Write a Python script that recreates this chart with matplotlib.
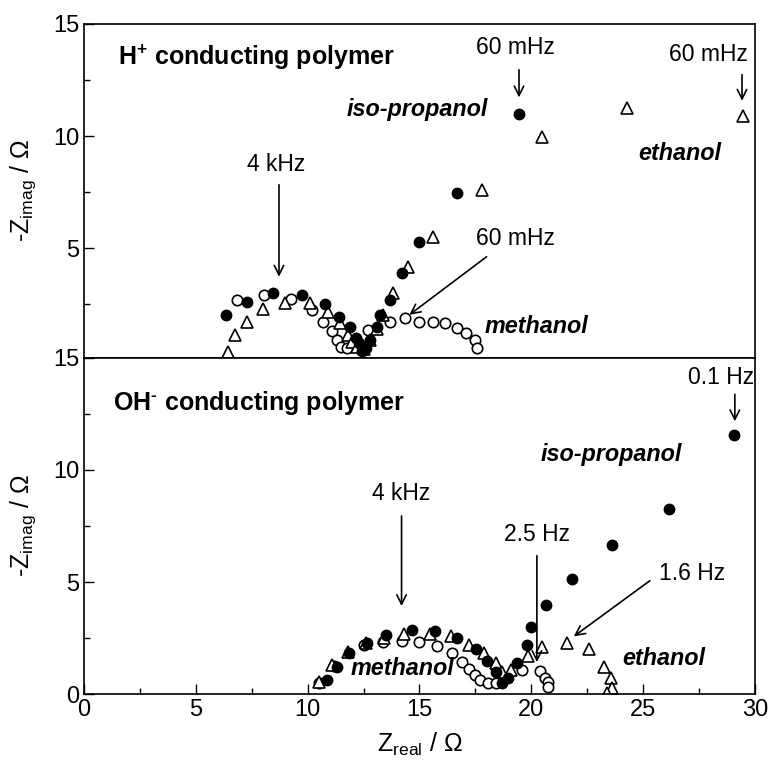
import matplotlib
matplotlib.use("Agg")
import matplotlib.pyplot as plt

plt.rcParams['font.family'] = ['Liberation Sans', 'DejaVu Sans']
plt.rcParams['mathtext.fontset'] = 'custom'
plt.rcParams['mathtext.rm'] = 'Liberation Sans'
plt.rcParams['mathtext.bf'] = 'Liberation Sans:bold'

# ---- H+ conducting polymer (top) ----
h_iso_x = [6.35, 7.28, 8.45, 9.74, 10.77, 11.4, 11.9, 12.15, 12.3, 12.45, 12.6, 12.8, 13.1, 13.23, 13.68, 14.2, 15.0, 16.67, 19.45]
h_iso_y = [2.0, 2.59, 2.99, 2.9, 2.5, 1.92, 1.47, 1.0, 0.76, 0.4, 0.55, 0.9, 1.47, 2.0, 2.68, 3.87, 5.27, 7.46, 11.0]

h_eth_x = [6.43, 6.75, 7.28, 8.0, 9.0, 10.1, 10.9, 11.44, 11.8, 12.0, 12.2, 12.5, 12.8, 13.1, 13.37, 13.8, 14.5, 15.6, 17.8, 20.5, 24.3, 29.45]
h_eth_y = [0.36, 1.12, 1.7, 2.28, 2.54, 2.55, 2.14, 1.65, 1.12, 0.8, 0.58, 0.5, 0.9, 1.4, 2.0, 2.98, 4.15, 5.5, 7.6, 9.96, 11.25, 10.9]

h_meth_x = [6.83, 8.06, 9.24, 10.2, 10.7, 11.1, 11.3, 11.5, 11.75, 12.1, 12.7, 13.68, 14.35, 15.0, 15.6, 16.14, 16.7, 17.1, 17.5, 17.57]
h_meth_y = [2.68, 2.9, 2.72, 2.23, 1.7, 1.3, 0.9, 0.6, 0.53, 0.76, 1.34, 1.7, 1.87, 1.7, 1.7, 1.65, 1.43, 1.2, 0.9, 0.54]

# ---- OH- conducting polymer (bottom) ----
oh_iso_x = [10.86, 11.3, 11.85, 12.65, 13.5, 14.65, 15.7, 16.7, 17.55, 18.0, 18.4, 18.7, 18.95, 19.35, 19.8, 20.0, 20.65, 21.8, 23.6, 26.15, 29.06]
oh_iso_y = [0.63, 1.2, 1.83, 2.28, 2.63, 2.86, 2.8, 2.5, 2.0, 1.47, 0.98, 0.5, 0.7, 1.38, 2.2, 3.0, 3.97, 5.13, 6.65, 8.26, 11.56]

oh_eth_x = [10.5, 11.1, 11.8, 12.6, 13.4, 14.3, 15.47, 16.4, 17.2, 17.9, 18.4, 18.7, 19.1, 19.85, 20.5, 21.6, 22.6, 23.25, 23.55, 23.6, 23.4]
oh_eth_y = [0.54, 1.3, 1.87, 2.3, 2.5, 2.7, 2.68, 2.6, 2.2, 1.83, 1.38, 0.98, 1.07, 1.7, 2.1, 2.28, 2.0, 1.2, 0.7, 0.27, 0.05]

oh_meth_x = [10.5, 11.2, 12.5, 13.37, 14.2, 15.0, 15.8, 16.45, 16.9, 17.2, 17.5, 17.7, 18.06, 18.4, 19.6, 20.4, 20.6, 20.75, 20.75]
oh_meth_y = [0.5, 1.25, 2.2, 2.33, 2.37, 2.33, 2.14, 1.83, 1.43, 1.12, 0.85, 0.63, 0.5, 0.5, 1.07, 1.03, 0.7, 0.54, 0.3]

fig = plt.figure(figsize=(7.7, 7.61), dpi=100)
ax1 = fig.add_axes([0.109, 0.5296, 0.8715, 0.4389])
ax2 = fig.add_axes([0.109, 0.088, 0.8715, 0.4416])

ms = 7.5
for ax, (ix, iy), (ex, ey), (mx, my) in [
        (ax1, (h_iso_x, h_iso_y), (h_eth_x, h_eth_y), (h_meth_x, h_meth_y)),
        (ax2, (oh_iso_x, oh_iso_y), (oh_eth_x, oh_eth_y), (oh_meth_x, oh_meth_y))]:
    ax.plot(mx, my, 'o', ms=ms, mfc='white', mec='black', mew=1.2, ls='none')
    ax.plot(ex, ey, '^', ms=ms + 0.5, mfc='white', mec='black', mew=1.2, ls='none')
    ax.plot(ix, iy, 'o', ms=ms, mfc='black', mec='black', ls='none')
    ax.set_xlim(0, 30)
    ax.set_xticks([0, 5, 10, 15, 20, 25, 30])
    ax.set_xticks([2.5, 7.5, 12.5, 17.5, 22.5, 27.5], minor=True)
    ax.tick_params(which='major', direction='in', length=7, width=1, labelsize=17)
    ax.tick_params(which='minor', direction='in', length=4, width=1)
    ax.tick_params(top=False, right=False)
    for s in ax.spines.values():
        s.set_linewidth(1.2)
    ax.set_ylabel(r'-Z$_\mathregular{imag}$ / $\Omega$', fontsize=18)
    ax.yaxis.set_label_coords(-0.068, 0.5)

ax1.set_ylim(0.1, 15)
ax1.set_yticks([5, 10, 15])
ax1.set_yticks([2.5, 7.5, 12.5], minor=True)
ax1.tick_params(axis='x', which='both', bottom=False, labelbottom=False)

ax2.set_ylim(0, 15)
ax2.set_yticks([0, 5, 10, 15])
ax2.set_yticks([2.5, 7.5, 12.5], minor=True)
ax2.set_xlabel(r'Z$_\mathregular{real}$ / $\Omega$', fontsize=18, labelpad=7)

arrow = dict(arrowstyle='->', color='black', lw=1.2, mutation_scale=17)
fs = 16.5
nm = dict(fontsize=16.8, fontweight='bold', style='italic', va='center')

# top panel labels
ax1.text(1.52, 13.5, r'H$^\mathbf{+}$ conducting polymer', fontsize=18, fontweight='bold', va='center')
ax1.text(18.06, 11.2, 'iso-propanol', ha='right', **nm)
ax1.text(24.77, 9.2, 'ethanol', **nm)
ax1.text(17.9, 1.5, 'methanol', **nm)
ax1.text(8.6, 8.75, '4 kHz', fontsize=fs, ha='center', va='center')
ax1.annotate('', xy=(8.72, 3.6), xytext=(8.72, 7.95), arrowprops=arrow)
ax1.text(19.3, 13.93, '60 mHz', fontsize=fs, ha='center', va='center')
ax1.annotate('', xy=(19.45, 11.6), xytext=(19.45, 13.08), arrowprops=arrow)
ax1.text(27.94, 13.66, '60 mHz', fontsize=fs, ha='center', va='center')
ax1.annotate('', xy=(29.42, 11.45), xytext=(29.42, 12.86), arrowprops=arrow)
ax1.text(19.27, 5.45, '60 mHz', fontsize=fs, ha='center', va='center')
ax1.annotate('', xy=(14.45, 1.95), xytext=(18.1, 4.69), arrowprops=arrow)

# bottom panel labels (short hyphen as the superscript charge)
ax2.text(1.3, 13.0, 'OH$^\\mathbf{\u2010}$ conducting polymer', fontsize=18, fontweight='bold', va='center')
ax2.text(20.4, 10.67, 'iso-propanol', **nm)
ax2.text(11.9, 1.16, 'methanol', **nm)
ax2.text(24.05, 1.6, 'ethanol', **nm)
ax2.text(14.2, 8.93, '4 kHz', fontsize=fs, ha='center', va='center')
ax2.annotate('', xy=(14.2, 3.8), xytext=(14.2, 8.07), arrowprops=arrow)
ax2.text(20.25, 7.1, '2.5 Hz', fontsize=fs, ha='center', va='center')
ax2.annotate('', xy=(20.25, 1.3), xytext=(20.25, 6.3), arrowprops=arrow)
ax2.text(27.18, 5.4, '1.6 Hz', fontsize=fs, ha='center', va='center')
ax2.annotate('', xy=(21.8, 2.5), xytext=(25.4, 5.13), arrowprops=arrow)
ax2.text(28.48, 14.15, '0.1 Hz', fontsize=fs, ha='center', va='center')
ax2.annotate('', xy=(29.1, 12.05), xytext=(29.1, 13.5), arrowprops=arrow)

fig.savefig('out.png', dpi=100)
